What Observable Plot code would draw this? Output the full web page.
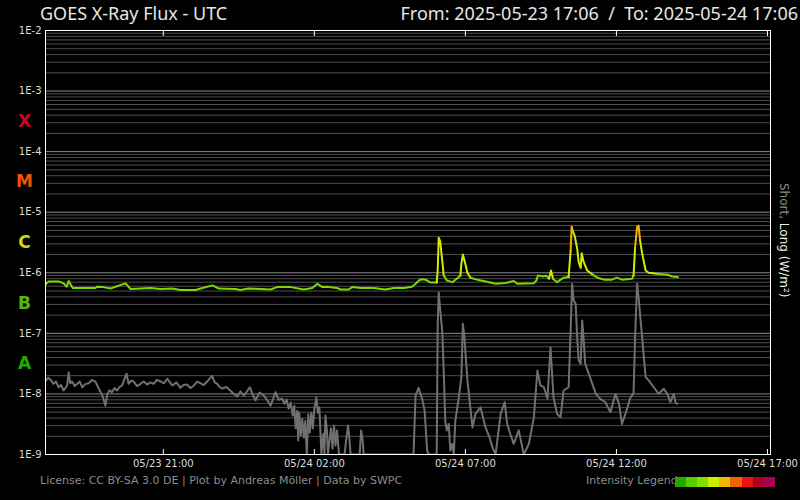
<!DOCTYPE html>
<html><head><meta charset="utf-8">
<script src="https://cdn.jsdelivr.net/npm/d3@7"></script>
<script src="https://cdn.jsdelivr.net/npm/@observablehq/plot@0.6"></script>
<style>
html,body{margin:0;padding:0;background:#000;}
#wrap{position:relative;width:800px;height:500px;overflow:hidden;background:#000;}
#chart{position:absolute;left:0;top:0;}
.title{position:absolute;top:4px;font-family:"Noto Sans",sans-serif;font-size:18px;line-height:18px;color:#e6e6e6;white-space:pre;}
.foot{position:absolute;top:474px;font-family:"DejaVu Sans",sans-serif;font-size:11px;line-height:13px;color:#8c8c8c;white-space:pre;}
#side{position:absolute;left:776px;top:183px;writing-mode:vertical-rl;font-family:"DejaVu Sans",sans-serif;font-size:12px;line-height:16px;white-space:pre;}
#legend{position:absolute;left:675px;top:477px;height:10px;display:flex;}
#legend div{width:11.1px;height:10px;}
</style>
</head><body>
<div id="wrap">
  <div id="chart"></div>
  <div class="title" style="left:40px;">GOES X-Ray Flux - UTC</div>
  <div class="title" style="right:2px;">From: 2025-05-23 17:06  /  To: 2025-05-24 17:06</div>
  <div id="side"><span style="color:#8a8a8a">Short,</span><span style="color:#eeeeee"> Long (W/m²)</span></div>
  <div class="foot" style="left:40px;">License: CC BY-SA 3.0 DE | Plot by Andreas Möller | Data by SWPC</div>
  <div class="foot" style="left:586px;">Intensity Legend</div>
  <div id="legend"></div>
</div>
<script>
const startTime = "2025-05-23T17:06:00Z";
const endTime = "2025-05-24T17:06:00Z";
const tickTimes = ["2025-05-23T21:00:00Z","2025-05-24T02:00:00Z","2025-05-24T07:00:00Z","2025-05-24T12:00:00Z","2025-05-24T17:00:00Z"];
const decades = [1e-9,1e-8,1e-7,1e-6,1e-5,1e-4,1e-3,1e-2];
const mantissas = [2,3,4,5,6,7,8,9];
const classLetters = ["A","B","C","M","X"];
const classCenters = [3.16e-8,3.16e-7,3.16e-6,3.16e-5,3.16e-4];
const classColors = ["#22aa00","#55bb00","#ccdd00","#ee5500","#cc0022"];
const levelThresholds = [1e-7,5e-7,1e-6,5e-6,1e-5,5e-5,1e-4,1e-3];
const levelColors = ["#22aa00","#55cc00","#7dd800","#d2ea00","#f0b400","#ee6600","#ee1111","#aa0022","#aa0055"];
const legendColors = ["#22aa00","#55cc00","#88dd00","#ccee00","#f0b800","#ee6600","#ee1111","#aa0022","#aa0055"];

// minutes since 2025-05-23 17:06 UTC
const longMinutes = [0,6,26,36,42,46,54,99,103,115,129,159,169,209,228,252,268,298,308,332,344,377,387,403,427,447,460,487,513,530,540,550,559,579,586,602,609,626,652,675,692,712,728,735,743,748,755,765,777,779,781,784,788,791,797,808,817,824,826,829,833,838,844,857,870,894,914,930,937,970,975,978,990,994,1000,1004,1008,1016,1029,1039,1043,1045,1048,1051,1056,1059,1063,1065,1069,1076,1086,1096,1109,1125,1135,1145,1165,1168,1171,1175,1178,1181,1185,1192,1198,1215,1235,1245,1256];
const longFlux = [6.4e-7,7.2e-7,7.2e-7,6.7e-7,5.9e-7,7.3e-7,5.6e-7,5.6e-7,5.9e-7,5.8e-7,5.5e-7,6.7e-7,5.4e-7,5.6e-7,5.4e-7,5.5e-7,5.2e-7,5.2e-7,5.5e-7,6.2e-7,5.5e-7,5.4e-7,5.2e-7,5.5e-7,5.4e-7,5.3e-7,5.8e-7,5.8e-7,5.3e-7,5.6e-7,6.6e-7,5.8e-7,5.9e-7,5.6e-7,5.3e-7,5.3e-7,5.8e-7,5.6e-7,5.6e-7,5.3e-7,5.6e-7,5.6e-7,5.9e-7,6.6e-7,7.6e-7,7.8e-7,7.7e-7,6.9e-7,6.9e-7,1.09e-6,3.8e-6,3.3e-6,1.6e-6,9.0e-7,7.5e-7,7.0e-7,8.0e-7,9.0e-7,1.4e-6,2.0e-6,1.5e-6,1.0e-6,8.3e-7,7.7e-7,7.3e-7,6.6e-7,6.8e-7,7.3e-7,6.6e-7,6.7e-7,7.5e-7,9.0e-7,8.7e-7,9.0e-7,8.0e-7,1.09e-6,8.0e-7,7.0e-7,8.3e-7,8.5e-7,2.3e-6,5.8e-6,4.7e-6,4.1e-6,2.5e-6,1.5e-6,1.2e-6,2.1e-6,1.5e-6,1.09e-6,9.4e-7,8.3e-7,7.7e-7,7.7e-7,8.3e-7,7.7e-7,8.0e-7,9.0e-7,2.6e-6,5.7e-6,6.0e-6,3.4e-6,2.1e-6,1.09e-6,1.0e-6,9.6e-7,9.3e-7,8.7e-7,8.5e-7];

const shortMinutes = [0,5,10,16,21,26,31,36,43,46,49,53,58,63,68,73,79,86,92,99,106,113,119,123,127,132,137,142,147,152,161,165,170,175,182,189,195,202,208,215,221,228,235,242,247,252,260,268,274,281,288,295,301,308,314,321,331,336,341,346,351,359,367,374,381,387,394,406,411,417,425,434,440,447,457,463,470,475,479,483,487,491,494,497,500,502,504,507,510,513,516,519,522,525,528,531,534,538,541,544,548,550,552,554,556,559,561,564,567,570,573,576,579,583,594,597,601,604,606,624,627,630,632,731,735,741,748,753,758,761,777,779,781,784,788,791,794,797,801,804,808,811,814,821,826,829,832,838,843,848,854,864,874,882,888,894,904,912,917,923,930,940,950,960,970,977,983,990,997,1003,1009,1016,1023,1029,1039,1043,1046,1049,1053,1056,1059,1063,1066,1069,1072,1079,1086,1093,1102,1112,1122,1132,1139,1145,1152,1162,1168,1171,1175,1178,1185,1192,1198,1208,1218,1228,1235,1241,1248,1251,1255];
const shortFlux = [1.6e-8,1.85e-8,1.72e-8,1.47e-8,1.6e-8,1.29e-8,1.4e-8,1.14e-8,1.38e-8,2.29e-8,1.5e-8,1.6e-8,1.35e-8,1.47e-8,1.6e-8,1.29e-8,1.45e-8,1.5e-8,1.7e-8,1.6e-8,1.22e-8,9.4e-9,6.4e-9,1.0e-8,1.15e-8,1.07e-8,1.25e-8,1.14e-8,1.3e-8,1.38e-8,2.16e-8,1.47e-8,1.65e-8,1.6e-8,1.35e-8,1.47e-8,1.6e-8,1.43e-8,1.55e-8,1.47e-8,1.7e-8,1.62e-8,1.5e-8,1.78e-8,1.55e-8,1.38e-8,1.55e-8,1.26e-8,1.4e-8,1.43e-8,1.25e-8,1.38e-8,1.6e-8,1.5e-8,1.4e-8,1.6e-8,2.0e-8,1.55e-8,1.47e-8,1.3e-8,1.22e-8,1.3e-8,1.14e-8,1.0e-8,9.06e-9,1.1e-8,9.4e-9,1.29e-8,1.0e-8,7.8e-9,1.05e-8,9.4e-9,8.0e-9,6.4e-9,1.07e-8,8.0e-9,8.3e-9,6.9e-9,8.1e-9,5.7e-9,7.2e-9,4.4e-9,6.4e-9,2.7e-9,5.3e-9,1.7e-9,4.9e-9,2.06e-9,3.9e-9,1.9e-9,3.6e-9,1e-9,4.6e-9,2.3e-9,4.9e-9,2.7e-9,5.7e-9,8.7e-9,4.9e-9,6.0e-9,1e-9,1.7e-9,2.2e-9,1e-9,4.4e-9,2.5e-9,1e-9,1.7e-9,2.7e-9,1.26e-9,3.0e-9,1.4e-9,2.5e-9,1e-9,1e-9,1.7e-9,3.0e-9,1.7e-9,1e-9,1e-9,2.5e-9,1.7e-9,1e-9,1e-9,9.4e-9,1.26e-8,8.3e-9,5.3e-9,1.16e-9,1e-9,1e-9,1.44e-7,4.79e-7,2.39e-7,1.11e-7,2.44e-8,3.6e-9,2.5e-9,3.2e-9,1.16e-9,1.5e-9,1e-9,3.6e-9,8.8e-9,1.89e-8,1.44e-7,8.65e-8,1.67e-8,6.9e-9,2.8e-9,4.7e-9,6.0e-9,2.8e-9,1.9e-9,1.3e-9,1e-9,4.7e-9,7.3e-9,3.2e-9,2.2e-9,1.5e-9,2.5e-9,1e-9,1.5e-9,4.1e-9,2.44e-8,1.38e-8,1.29e-8,8.3e-9,5.9e-8,8.8e-9,4.7e-9,4.1e-9,1.14e-8,1.29e-8,1.11e-7,6.58e-7,3.49e-7,3.08e-7,8.65e-8,3.57e-8,3.15e-8,1.63e-7,7.6e-8,3.15e-8,2.16e-8,1.47e-8,1.0e-8,8.3e-9,7.3e-9,5.0e-9,1.0e-8,6.9e-9,3.2e-9,4.7e-9,8.8e-9,1.0e-8,8.65e-8,6.58e-7,3.95e-7,8.65e-8,1.89e-8,1.67e-8,1.29e-8,1.0e-8,1.22e-8,1.0e-8,7.3e-9,1.0e-8,7.3e-9,6.9e-9];

const t0 = Date.parse(startTime);
const toDate = m => new Date(t0 + m * 60000);
const longData = longMinutes.map((m, i) => ({t: toDate(m), flux: longFlux[i]}));
const shortData = shortMinutes.map((m, i) => ({t: toDate(m), flux: shortFlux[i]}));
const tickDates = tickTimes.map(s => new Date(s));
const minorGrid = decades.slice(0, -1).flatMap(d => mantissas.map(m => m * d));
const majorGrid = decades;

const plot = Plot.plot({
  width: 800,
  height: 500,
  marginLeft: 45,
  marginRight: 30,
  marginTop: 30,
  marginBottom: 46,
  style: {background: "#000", color: "#dddddd", fontFamily: "DejaVu Sans, sans-serif", fontSize: "10px"},
  x: {type: "utc", domain: [new Date(startTime), new Date(endTime)]},
  y: {type: "log", domain: [1e-9, 1e-2]},
  color: {type: "threshold", domain: levelThresholds, range: levelColors},
  marks: [
    Plot.ruleY(minorGrid, {y: d => d, stroke: "#4e4e4e", strokeWidth: 1}),
    Plot.ruleY(majorGrid, {y: d => d, stroke: "#8a8a8a", strokeWidth: 1}),
    Plot.line(shortData, {x: "t", y: "flux", stroke: "#707070", strokeWidth: 2, clip: true}),
    Plot.line(longData, {x: "t", y: "flux", z: null,
      stroke: (d, i) => Math.max(d.flux, (longData[i + 1] || d).flux),
      strokeWidth: 2, clip: true}),
    ...classLetters.map((c, i) => Plot.text([c], {
      y: () => classCenters[i], text: d => d, frameAnchor: "left", dx: -21,
      fill: classColors[i], fontSize: 17, fontWeight: "bold", textAnchor: "middle"
    })),
    Plot.axisY({ticks: decades, tickFormat: d => "1E" + Math.round(Math.log10(d)), tickSize: 0, tickPadding: 4, label: null, fill: "#dddddd"}),
    Plot.axisX({anchor: "bottom", ticks: tickDates, tickFormat: d3.utcFormat("%m/%d %H:%M"), tickSize: -5, tickPadding: 10, label: null, stroke: "#ffffff", fill: "#dddddd"}),
    Plot.axisX({anchor: "top", ticks: tickDates, tickFormat: () => "", tickSize: -5, tickPadding: 0, label: null, stroke: "#ffffff"}),
    Plot.frame({stroke: "#ffffff"})
  ]
});
document.getElementById("chart").appendChild(plot);

const legend = document.getElementById("legend");
legendColors.forEach(c => {
  const s = document.createElement("div");
  s.style.background = c;
  legend.appendChild(s);
});
</script>
</body></html>
